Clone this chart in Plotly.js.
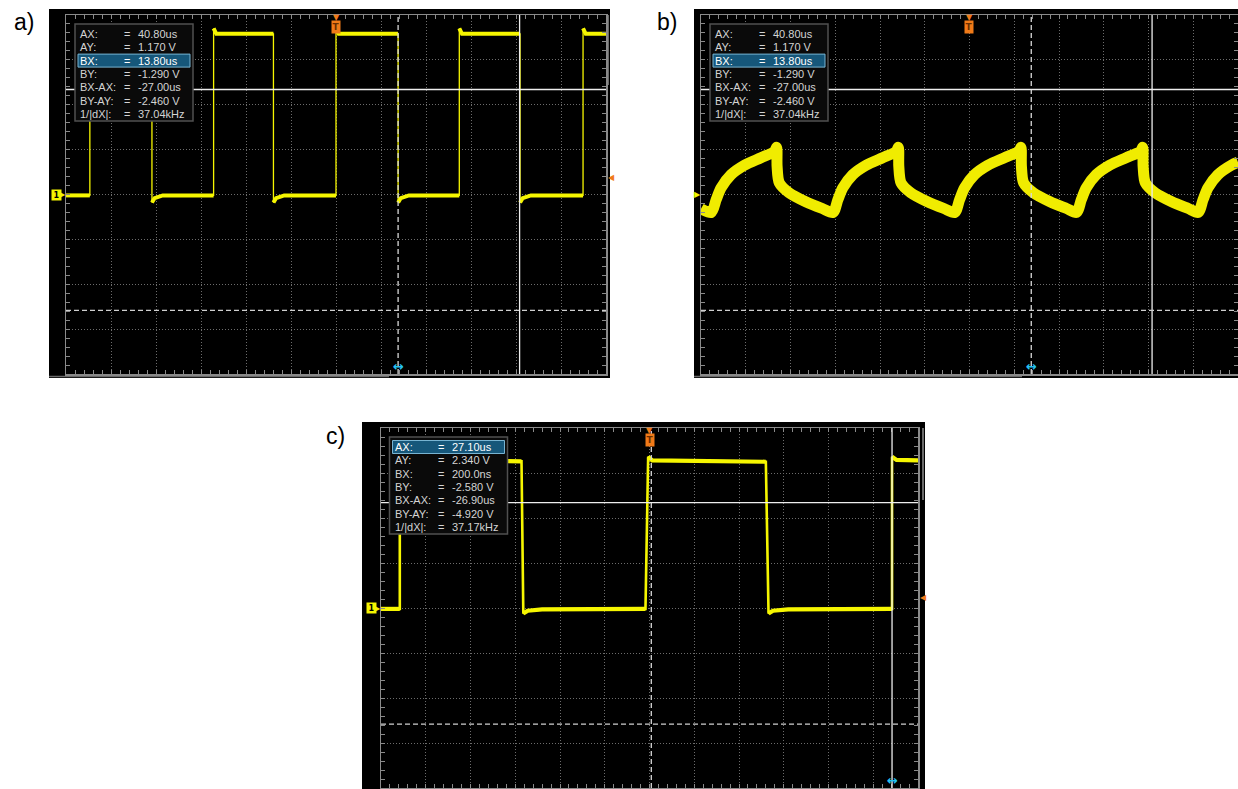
<!DOCTYPE html>
<html><head><meta charset="utf-8">
<script src="https://cdn.plot.ly/plotly-3.0.1.min.js"></script>
<style>html,body{margin:0;padding:0;background:#fff}#chart{width:1238px;height:789px}</style>
</head><body><div id="chart"></div>
<script>
// ---------------- data ----------------
const panelLabels = ['a)', 'b)', 'c)'];
const measLabels = ['AX:', 'AY:', 'BX:', 'BY:', 'BX-AX:', 'BY-AY:', '1/|dX|:'];
const measValuesA = ['40.80us', '1.170 V', '13.80us', '-1.290 V', '-27.00us', '-2.460 V', '37.04kHz'];
const measValuesB = ['40.80us', '1.170 V', '13.80us', '-1.290 V', '-27.00us', '-2.460 V', '37.04kHz'];
const measValuesC = ['27.10us', '2.340 V', '200.0ns', '-2.580 V', '-26.90us', '-4.920 V', '37.17kHz'];
// cursor positions: [AX (us), AY (V), BX (us), BY (V)]
const cursorsA = [40.8, 1.17, 13.8, -1.29];
const cursorsB = [40.8, 1.17, 13.8, -1.29];
const cursorsC = [27.1, 2.34, 0.2, -2.58];
const selectedRow = [2, 2, 0];          // highlighted measurement row per panel
const triggerTime = [0, 0, 0];          // us
const triggerLevel = [0.19, null, 0.24]; // V
// screen ranges: time (us) and voltage (V)
const timeRangeA = [-60, 60], voltRangeA = [-2, 2];
const timeRangeB = [-60, 60], voltRangeB = [-2, 2];
const timeRangeC = [-30, 30], voltRangeC = [-4, 4];

// waveform a) (time us, voltage V)
const timeA = [-60, -54.7, -54.7, -54.1, -40.9, -40.9, -40.3, -38.5, -27.2, -27.2, -26.6, -13.9, -13.9, -13.3, -11.5, 0, 0, 0.6, 13.8, 13.8, 14.4, 16.2, 27.4, 27.4, 28.0, 40.9, 40.9, 41.5, 43.3, 54.9, 54.9, 55.5, 60];
const voltA = [-0.01, -0.01, 1.85, 1.79, 1.79, -0.09, -0.04, -0.01, -0.01, 1.85, 1.79, 1.79, -0.09, -0.04, -0.01, -0.01, 1.85, 1.79, 1.79, -0.09, -0.04, -0.01, -0.01, 1.85, 1.79, 1.79, -0.09, -0.04, -0.01, -0.01, 1.85, 1.79, 1.79];
// waveform b)
const timeB = [-60, -57.7, -56.6, -55.5, -53.3, -50.3, -46.6, -43.6, -43.1, -43.0, -42.5, -40.3, -36.6, -32.9, -30.5, -29.4, -28.3, -26.1, -23.1, -19.4, -16.4, -15.9, -15.8, -15.3, -13.1, -9.4, -5.7, -3.3, -2.2, -1.1, 1.1, 4.1, 7.8, 11.0, 11.5, 11.6, 12.1, 14.3, 18.0, 21.7, 23.9, 25.0, 26.1, 28.3, 31.3, 35.0, 38.2, 38.7, 38.8, 39.3, 41.5, 45.2, 48.9, 51.1, 52.2, 53.3, 55.5, 58.5, 60];
const voltB = [-0.16, -0.20, -0.056, 0.074, 0.22, 0.326, 0.41, 0.48, 0.525, 0.315, 0.13, 0.019, -0.08, -0.156, -0.20, -0.056, 0.074, 0.22, 0.326, 0.41, 0.48, 0.525, 0.315, 0.13, 0.019, -0.08, -0.156, -0.20, -0.056, 0.074, 0.22, 0.326, 0.41, 0.48, 0.525, 0.315, 0.13, 0.019, -0.08, -0.156, -0.20, -0.056, 0.074, 0.22, 0.326, 0.41, 0.48, 0.525, 0.315, 0.13, 0.019, -0.08, -0.156, -0.20, -0.056, 0.074, 0.22, 0.326, 0.36];
// waveform c)
const timeC = [-30, -27.9, -27.9, -27.5, -14.3, -14.1, -13.6, -12.0, -0.45, -0.15, 0.3, 13.0, 13.3, 13.8, 15.5, 27.1, 27.1, 27.6, 30];
const voltC = [-0.02, -0.02, 3.34, 3.28, 3.26, -0.12, -0.06, -0.03, -0.02, 3.36, 3.28, 3.25, -0.12, -0.06, -0.03, -0.02, 3.36, 3.29, 3.28];

// ---------------- helpers ----------------
const W = 1238, H = 789;
const X = px => px / W;
const Y = py => 1 - py / H;
const YEL = '#f6f600', GRID = '#6c6c6c', BORDER = '#8a8a8a', ORANGE = '#f07a18';
const FONT = 'Liberation Sans, Arial, sans-serif';

function levelsOnly(t, v, jump) {
  const x = [], y = [];
  for (let i = 0; i < t.length; i++) {
    if (i > 0 && Math.abs(v[i] - v[i - 1]) > jump) { x.push(null); y.push(null); }
    x.push(t[i]); y.push(v[i]);
  }
  return {x, y};
}
function mainAxis(range, dtick, domain, anchor) {
  return {domain, range, anchor, dtick, tick0: 0, showgrid: true, gridcolor: GRID, griddash: '1px,2px', gridwidth: 1,
    zeroline: false, showline: true, linecolor: BORDER, linewidth: 1.5, mirror: 'ticks',
    ticks: 'inside', ticklen: 4, tickwidth: 1, tickcolor: BORDER,
    minor: {dtick: dtick / 5, tick0: 0, ticks: 'inside', ticklen: 4, tickwidth: 1, tickcolor: BORDER, showgrid: false},
    showticklabels: false, fixedrange: true};
}
function centerAxis(range, dtick, overlaying, position, side) {
  return {range, overlaying, anchor: 'free', position, dtick, tick0: 0, showgrid: false, zeroline: false, showline: false,
    ticks: side, ticklen: 3, tickwidth: 1, tickcolor: '#7a7a7a',
    minor: {dtick: dtick / 5, tick0: 0, ticks: side, ticklen: 3, tickwidth: 1, tickcolor: '#7a7a7a', showgrid: false},
    showticklabels: false, fixedrange: true};
}

// panel geometry in pixels (grid area)
const panels = [
  {gx0: 66, gx1: 606, gy0: 15, gy1: 374, bez: [49, 610, 9, 378], xr: timeRangeA, yr: voltRangeA, dx: 10, dy: 0.5, ax: '', box: [75, 24], vals: measValuesA, cur: cursorsA},
  {gx0: 701, gx1: 1238, gy0: 15, gy1: 374, bez: [694, 1238, 9, 378], xr: timeRangeB, yr: voltRangeB, dx: 10, dy: 0.5, ax: '2', box: [710, 24], vals: measValuesB, cur: cursorsB},
  {gx0: 381, gx1: 918, gy0: 428, gy1: 788, bez: [362, 925, 422, 789], xr: timeRangeC, yr: voltRangeC, dx: 5, dy: 1, ax: '3', box: [389.5, 437], vals: measValuesC, cur: cursorsC}
];

const layout = {
  width: W, height: H, margin: {l: 0, r: 0, t: 0, b: 0}, showlegend: false,
  paper_bgcolor: '#ffffff', plot_bgcolor: '#000000', shapes: [], annotations: []
};
const shapes = layout.shapes, ann = layout.annotations;

panels.forEach((p, i) => {
  const xa = 'xaxis' + p.ax, ya = 'yaxis' + p.ax, xid = 'x' + p.ax, yid = 'y' + p.ax;
  layout[xa] = mainAxis(p.xr, p.dx, [X(p.gx0), X(p.gx1)], yid);
  layout[ya] = mainAxis(p.yr, p.dy, [Y(p.gy1), Y(p.gy0)], xid);
  const cy = (p.gy0 + p.gy1) / 2, cx = (p.gx0 + p.gx1) / 2;
  const n = 4 + i * 2;
  layout['xaxis' + n] = centerAxis(p.xr, p.dx, xid, Y(cy), 'inside');
  layout['xaxis' + (n + 1)] = centerAxis(p.xr, p.dx, xid, Y(cy), 'outside');
  layout['yaxis' + n] = centerAxis(p.yr, p.dy, yid, X(cx), 'inside');
  layout['yaxis' + (n + 1)] = centerAxis(p.yr, p.dy, yid, X(cx), 'outside');

  // bezel
  shapes.push({type: 'rect', xref: 'paper', yref: 'paper', layer: 'below', x0: X(p.bez[0]), x1: X(p.bez[1]), y0: Y(p.bez[3]), y1: Y(p.bez[2]),
    fillcolor: '#000000', line: {width: 0}});

  // cursors
  const [cAX, cAY, cBX, cBY] = p.cur;
  const xd = xid + ' domain', yd = yid + ' domain';
  shapes.push({type: 'line', xref: xid, yref: yd, x0: cAX, x1: cAX, y0: 0, y1: 1, layer: 'above', line: {color: '#eeeeee', width: 1.3}});
  shapes.push({type: 'line', xref: xid, yref: yd, x0: cBX, x1: cBX, y0: 0, y1: 1, layer: 'above', line: {color: '#d8d8d8', width: 1.3, dash: '5px,3px'}});
  shapes.push({type: 'line', xref: xd, yref: yid, x0: 0, x1: 1, y0: cAY, y1: cAY, layer: 'above', line: {color: '#eeeeee', width: 1.3}});
  shapes.push({type: 'line', xref: xd, yref: yid, x0: 0, x1: 1, y0: cBY, y1: cBY, layer: 'above', line: {color: '#cfcfcf', width: 1.3, dash: '5px,3px'}});

  // measurement box
  const [ox, oy] = p.box;
  shapes.push({type: 'rect', xref: 'paper', yref: 'paper', layer: 'above', x0: X(ox), x1: X(ox + 118), y0: Y(oy + 97), y1: Y(oy),
    fillcolor: '#0a0a0a', line: {color: '#505050', width: 1.5}});
  const rowY = r => oy + 10 + r * 13.3;
  const sr = selectedRow[i];
  shapes.push({type: 'rect', xref: 'paper', yref: 'paper', layer: 'above', x0: X(ox + 3), x1: X(ox + 115), y0: Y(rowY(sr) + 6.5), y1: Y(rowY(sr) - 6.5),
    fillcolor: '#16577a', line: {color: '#78b4d2', width: 1}});
  measLabels.forEach((lab, r) => {
    const col = r === sr ? '#ffffff' : '#d4d4d4';
    const f = {family: FONT, size: 11, color: col};
    ann.push({xref: 'paper', yref: 'paper', x: X(ox + 4), y: Y(rowY(r)), xanchor: 'left', yanchor: 'middle', text: lab, showarrow: false, font: f, borderpad: 0});
    ann.push({xref: 'paper', yref: 'paper', x: X(ox + 47.5), y: Y(rowY(r)), xanchor: 'left', yanchor: 'middle', text: '=', showarrow: false, font: f, borderpad: 0});
    ann.push({xref: 'paper', yref: 'paper', x: X(ox + 61.5), y: Y(rowY(r)), xanchor: 'left', yanchor: 'middle', text: p.vals[r], showarrow: false, font: f, borderpad: 0});
  });

  // trigger marker (top)
  ann.push({xref: xid, yref: yd, x: triggerTime[i], y: 1, yanchor: 'top', yshift: 3, text: '▼', showarrow: false,
    font: {family: 'DejaVu Sans', size: 8, color: ORANGE}, borderpad: 0});
  ann.push({xref: xid, yref: yd, x: triggerTime[i], y: 1, yanchor: 'top', yshift: -5, text: '<b>T</b>', showarrow: false,
    font: {family: 'DejaVu Sans', size: 9, color: '#6b2e00'}, bgcolor: ORANGE, borderpad: 0, width: 8, height: 12});
  // trigger level (right)
  if (triggerLevel[i] !== null) {
    ann.push({xref: 'paper', yref: yid, x: X(p.gx1 + 1), y: triggerLevel[i], xanchor: 'left', yanchor: 'middle', text: '◀', showarrow: false,
      font: {family: 'DejaVu Sans', size: 8, color: ORANGE}, borderpad: 0});
  }
  // channel 1 ground marker (left)
  if (i !== 1) {
    ann.push({xref: 'paper', yref: yid, x: X(p.gx0 - 4), y: 0, xanchor: 'right', yanchor: 'middle', text: '<b>1</b>', showarrow: false,
      font: {family: 'DejaVu Sans', size: 8, color: '#000000'}, bgcolor: '#f4f400', borderpad: 0, width: 9, height: 10});
  }
  ann.push({xref: 'paper', yref: yid, x: X(p.gx0 + 0.5), y: 0, xanchor: 'right', yanchor: 'middle', text: '▶', showarrow: false,
    font: {family: 'DejaVu Sans', size: 8, color: '#f4f400'}, borderpad: 0});
  // selected cursor marker (bottom)
  const selX = sr === 0 ? cAX : cBX;
  ann.push({xref: xid, yref: yd, x: selX, y: 0, yanchor: 'bottom', yshift: -1, text: '<b>↔</b>', showarrow: false,
    font: {family: 'DejaVu Sans', size: 13, color: '#26c2f2'}, borderpad: 0});
  // panel label
  const lab = [[12, 22], [655, 22], [324, 436]][i];
  ann.push({xref: 'paper', yref: 'paper', x: X(lab[0]), y: Y(lab[1]), xanchor: 'left', yanchor: 'middle', text: panelLabels[i], showarrow: false,
    font: {family: FONT, size: 23, color: '#000000'}});
});

// small bezel details (scroll bars / tab lines)
shapes.push({type: 'line', xref: 'paper', yref: 'paper', layer: 'below', x0: X(608), x1: X(608), y0: Y(85), y1: Y(15), line: {color: '#6a6a6a', width: 2}});
shapes.push({type: 'line', xref: 'paper', yref: 'paper', layer: 'below', x0: X(923), x1: X(923), y0: Y(500), y1: Y(428), line: {color: '#6a6a6a', width: 2}});
shapes.push({type: 'line', xref: 'paper', yref: 'paper', layer: 'below', x0: X(49), x1: X(389), y0: Y(376.5), y1: Y(376.5), line: {color: '#6a6a6a', width: 1.5}});
shapes.push({type: 'line', xref: 'paper', yref: 'paper', layer: 'below', x0: X(694), x1: X(1022), y0: Y(376.5), y1: Y(376.5), line: {color: '#6a6a6a', width: 1.5}});

// ---------------- traces ----------------
const lvA = levelsOnly(timeA, voltA, 0.5);
const lvC = levelsOnly(timeC, voltC, 0.5);
const traces = [
  {x: timeA, y: voltA, xaxis: 'x', yaxis: 'y', mode: 'lines', line: {color: YEL, width: 1.3}, hoverinfo: 'skip', name: 'a edges'},
  {x: lvA.x, y: lvA.y, xaxis: 'x', yaxis: 'y', mode: 'lines', line: {color: YEL, width: 4}, connectgaps: false, hoverinfo: 'skip', name: 'a'},
  {x: timeB, y: voltB, xaxis: 'x2', yaxis: 'y2', mode: 'lines', line: {color: '#f0ec00', width: 11, shape: 'spline', smoothing: 0.8}, hoverinfo: 'skip', name: 'b'},
  {x: timeC, y: voltC, xaxis: 'x3', yaxis: 'y3', mode: 'lines', line: {color: YEL, width: 2.6}, hoverinfo: 'skip', name: 'c edges'},
  {x: lvC.x, y: lvC.y, xaxis: 'x3', yaxis: 'y3', mode: 'lines', line: {color: YEL, width: 4.2}, connectgaps: false, hoverinfo: 'skip', name: 'c'}
];

Plotly.newPlot('chart', traces, layout, {staticPlot: true, displayModeBar: false});
</script>
</body></html>
